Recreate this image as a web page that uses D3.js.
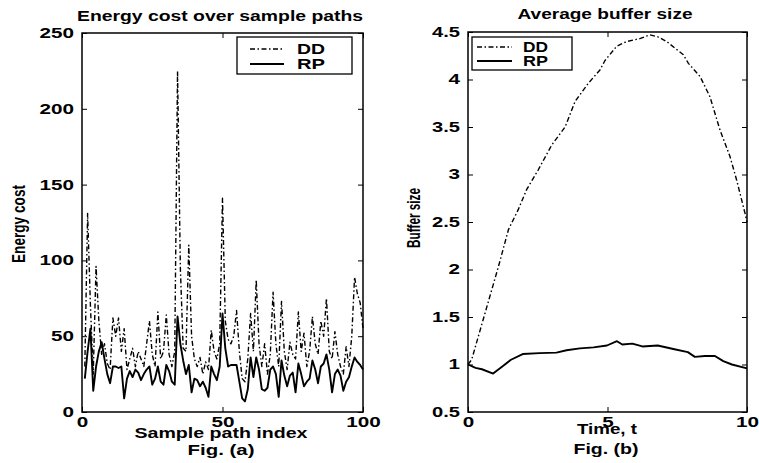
<!DOCTYPE html>
<html lang="en">
<head>
<meta charset="UTF-8" />
<title>Energy cost and average buffer size</title>
<script src="https://d3js.org/d3.v7.min.js"></script>
<style>
  body { margin: 0; background: #fff; }
  svg { display: block; }
  text { font-family: "Liberation Sans", Arial, sans-serif; fill: #000; }
</style>
</head>
<body>
<div id="chart"></div>
<script>
// Fig. (a): energy cost per sample path (index 1..100)
const pathIndex = d3.range(1, 101);
const ddCost = [
  30, 131, 70, 25, 96, 60, 38, 45, 32, 28,
  62, 50, 62, 40, 55, 28, 35, 42, 30, 40,
  35, 30, 45, 60, 38, 30, 66, 35, 40, 64,
  38, 30, 40, 225, 95, 42, 40, 110, 50, 35,
  30, 36, 25, 33, 28, 54, 40, 35, 45, 141,
  60, 48, 45, 50, 67, 40, 22, 20, 35, 65,
  40, 87, 45, 30, 45, 25, 38, 79, 45, 30,
  73, 40, 28, 46, 38, 35, 66, 40, 52, 30,
  40, 63, 45, 38, 60, 50, 75, 40, 35, 53,
  38, 30, 25, 43, 30, 50, 89, 78, 72, 55
];
const rpCost = [
  22, 40, 55, 14, 30, 40, 46, 35, 25, 19,
  30, 30, 29, 30, 9, 22, 27, 23, 28, 26,
  21, 25, 28, 30, 18, 22, 30, 20, 18, 31,
  27, 20, 18, 63, 45, 34, 25, 31, 13, 22,
  21, 17, 20, 16, 10, 30, 25, 21, 30, 65,
  42, 30, 31, 31, 31, 20, 9, 7, 15, 36,
  23, 36, 28, 15, 14, 16, 28, 30, 25, 10,
  34, 24, 17, 24, 26, 13, 32, 25, 17, 20,
  22, 34, 28, 19, 30, 32, 38, 28, 13, 25,
  28, 24, 14, 20, 23, 30, 36, 33, 31, 28
];
const costTicks = [0, 50, 100, 150, 200, 250];
const indexTicks = [0, 50, 100];

// Fig. (b): average buffer size over time
const timeDD = [0, 0.13, 0.61, 1.09, 1.45, 1.8, 2.1, 2.52, 3.0, 3.48, 3.84, 4.31, 4.73, 4.91,
  5.33, 5.69, 6.16, 6.52, 6.8, 7.12, 7.72, 7.9, 8.32, 8.67, 9.03, 9.39, 9.63, 9.93, 10];
const bufferDD = [1.0, 1.05, 1.54, 2.03, 2.42, 2.63, 2.84, 3.05, 3.31, 3.5, 3.77, 3.96, 4.1, 4.2,
  4.35, 4.4, 4.43, 4.47, 4.45, 4.4, 4.26, 4.17, 4.03, 3.82, 3.47, 3.19, 2.94, 2.59, 2.5];
const timeRP = [0, 0.27, 0.5, 0.9, 1.23, 1.54, 1.96, 2.56, 3.17, 3.53, 4.01, 4.5, 4.98, 5.34,
  5.53, 5.89, 6.25, 6.8, 7.4, 7.88, 8.13, 8.49, 8.85, 9.15, 9.46, 10];
const bufferRP = [1.0, 0.965, 0.95, 0.905, 0.98, 1.05, 1.11, 1.12, 1.125, 1.15, 1.17, 1.18, 1.2, 1.245,
  1.21, 1.22, 1.19, 1.2, 1.16, 1.13, 1.08, 1.09, 1.09, 1.035, 1.0, 0.96];
const bufferTicks = [0.5, 1, 1.5, 2, 2.5, 3, 3.5, 4, 4.5];
const timeTicks = [0, 5, 10];

const legendNames = ["DD", "RP"];
const ddDash = "5,2.5,1.5,2.5";

const width = 759, height = 463;
const svg = d3.select("#chart").append("svg")
  .attr("width", width).attr("height", height);

// bold labels stretched to the widths seen in the scan
function label(text, x, y, len, size, opts = {}) {
  const t = svg.append("text")
    .attr("x", x).attr("y", y)
    .attr("text-anchor", opts.anchor || "middle")
    .attr("font-size", size)
    .attr("font-weight", opts.weight || "bold")
    .attr("textLength", len)
    .attr("lengthAdjust", "spacingAndGlyphs")
    .text(text);
  if (opts.rotate) t.attr("transform", `rotate(-90, ${x}, ${y})`);
  return t;
}

function tickWidth(s) {
  let w = 0;
  for (const c of s) w += c === "." ? 5 : 11.5;
  return w;
}

const fmt = d3.format("~g");

function drawPanel(p) {
  const x = d3.scaleLinear().domain(p.xDomain).range([p.left, p.right]);
  const y = d3.scaleLinear().domain(p.yDomain).range([p.bottom, p.top]);

  const g = svg.append("g");

  // lines
  const line = d3.line().x(d => x(d[0])).y(d => y(d[1]));
  p.series.forEach(s => {
    g.append("path")
      .datum(d3.zip(s.xs, s.ys))
      .attr("fill", "none")
      .attr("stroke", "#000")
      .attr("stroke-width", s.width)
      .attr("stroke-linejoin", "round")
      .attr("stroke-dasharray", s.dash || null)
      .attr("d", line);
  });

  // inward ticks on all four sides
  const bottom = g.append("g").attr("transform", `translate(0,${p.bottom})`)
    .call(d3.axisBottom(x).tickValues(p.xTicks).tickFormat(fmt)
      .tickSizeInner(-5).tickSizeOuter(0).tickPadding(9));
  const left = g.append("g").attr("transform", `translate(${p.left},0)`)
    .call(d3.axisLeft(y).tickValues(p.yTicks).tickFormat(fmt)
      .tickSizeInner(-5).tickSizeOuter(0).tickPadding(8));
  g.append("g").attr("transform", `translate(0,${p.top})`)
    .call(d3.axisTop(x).tickValues(p.xTicks).tickSizeInner(-5).tickSizeOuter(0).tickFormat(""));
  g.append("g").attr("transform", `translate(${p.right},0)`)
    .call(d3.axisRight(y).tickValues(p.yTicks).tickSizeInner(-5).tickSizeOuter(0).tickFormat(""));
  g.selectAll(".domain").remove();
  g.selectAll(".tick line").attr("stroke", "#000").attr("stroke-width", 1);

  [bottom, left].forEach(a => a.selectAll("text")
    .attr("font-family", '"Liberation Sans", Arial, sans-serif')
    .attr("font-size", 14)
    .attr("font-weight", "bold")
    .attr("fill", "#000")
    .each(function () {
      d3.select(this).attr("textLength", tickWidth(this.textContent))
        .attr("lengthAdjust", "spacingAndGlyphs");
    }));
  bottom.selectAll("text").attr("dy", "0.71em").attr("y", 5);

  g.append("rect")
    .attr("x", p.left).attr("y", p.top)
    .attr("width", p.right - p.left).attr("height", p.bottom - p.top)
    .attr("fill", "none").attr("stroke", "#000").attr("stroke-width", 1.5);

  // legend
  const L = p.legend;
  g.append("rect")
    .attr("x", L.x).attr("y", L.y).attr("width", L.w).attr("height", L.h)
    .attr("fill", "#fff").attr("stroke", "#000").attr("stroke-width", 1.3);
  legendNames.forEach((name, i) => {
    const s = p.series[i];
    const ly = L.y + L.row0 + i * L.rowGap;
    g.append("line")
      .attr("x1", L.lx0).attr("x2", L.lx1).attr("y1", ly).attr("y2", ly)
      .attr("stroke", "#000").attr("stroke-width", s.width)
      .attr("stroke-dasharray", s.dash || null);
    g.append("text")
      .attr("x", L.tx).attr("y", ly + 5)
      .attr("font-size", L.size).attr("font-weight", "bold")
      .attr("textLength", L.tlen).attr("lengthAdjust", "spacingAndGlyphs")
      .text(name);
  });
}

drawPanel({
  left: 82, right: 363, top: 33, bottom: 412,
  xDomain: [0, 100], yDomain: [0, 250],
  xTicks: indexTicks, yTicks: costTicks,
  series: [
    { xs: pathIndex, ys: ddCost, width: 1.4, dash: ddDash },
    { xs: pathIndex, ys: rpCost, width: 1.9 }
  ],
  legend: { x: 237, y: 37, w: 115, h: 37, row0: 12, rowGap: 15,
    lx0: 250, lx1: 284, tx: 297, tlen: 28, size: 15 }
});

drawPanel({
  left: 468, right: 747, top: 32, bottom: 412,
  xDomain: [0, 10], yDomain: [0.5, 4.5],
  xTicks: timeTicks, yTicks: bufferTicks,
  series: [
    { xs: timeDD, ys: bufferDD, width: 1.4, dash: ddDash },
    { xs: timeRP, ys: bufferRP, width: 1.9 }
  ],
  legend: { x: 472, y: 37, w: 100, h: 33, row0: 10, rowGap: 14,
    lx0: 477, lx1: 512, tx: 523, tlen: 25, size: 14 }
});

// titles and axis labels
label("Energy cost over sample paths", 220, 21, 286, 15);
label("Average buffer size", 605, 19, 175, 15);
label("Sample path index", 221, 438, 173, 15);
label("Fig. (a)", 221, 455, 67, 15);
label("Time, t", 607, 434, 60, 15);
label("Fig. (b)", 606, 454, 65, 15);
label("Energy cost", 25, 224, 78, 19, { rotate: true });
label("Buffer size", 420, 218, 60, 18, { rotate: true });
</script>
</body>
</html>
